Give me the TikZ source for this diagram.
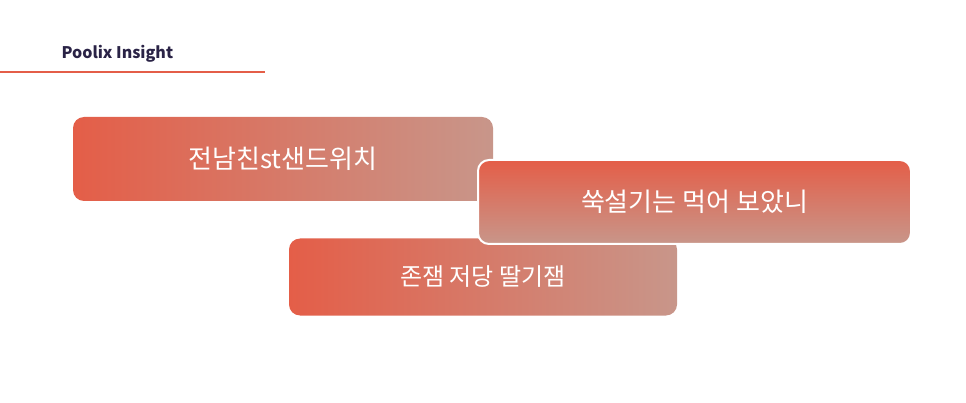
\documentclass[tikz,border=0pt]{standalone}
\usepackage{fontspec}
\setmainfont{Noto Sans CJK KR}
\definecolor{orng}{HTML}{E45E48}
\definecolor{dpink}{HTML}{C8968A}
\definecolor{navy}{HTML}{2A2346}
\begin{document}
\begin{tikzpicture}[x=1pt,y=-1pt,
  card/.style={rounded corners=11pt, inner sep=0pt, text=white},
  hcard/.style={card, left color=orng, right color=dpink},
  vcard/.style={card, top color=orng, bottom color=dpink, draw=white, line width=2pt}]
\useasboundingbox (0,0) rectangle (966,403);
\node[anchor=west, font=\bfseries\fontsize{16}{18}\selectfont, text=navy] (title) at (58,54) {Poolix Insight};
\coordinate (l1) at (0,72); \coordinate (l2) at (265,72);
\draw[orng, line width=1.2pt] (l1) -- (l2);
\node[hcard, minimum width=420pt, minimum height=84pt, font=\fontsize{26}{30}\selectfont] (b1) at (283,159) {전남친st샌드위치};
\node[hcard, minimum width=388pt, minimum height=77pt, font=\fontsize{24}{28}\selectfont] (b3) at (483,277) {존잼 저당 딸기잼};
\node[vcard, minimum width=433pt, minimum height=84pt, font=\fontsize{26}{30}\selectfont] (b2) at (694.5,202) {쑥설기는 먹어 보았니};
\end{tikzpicture}
\end{document}
